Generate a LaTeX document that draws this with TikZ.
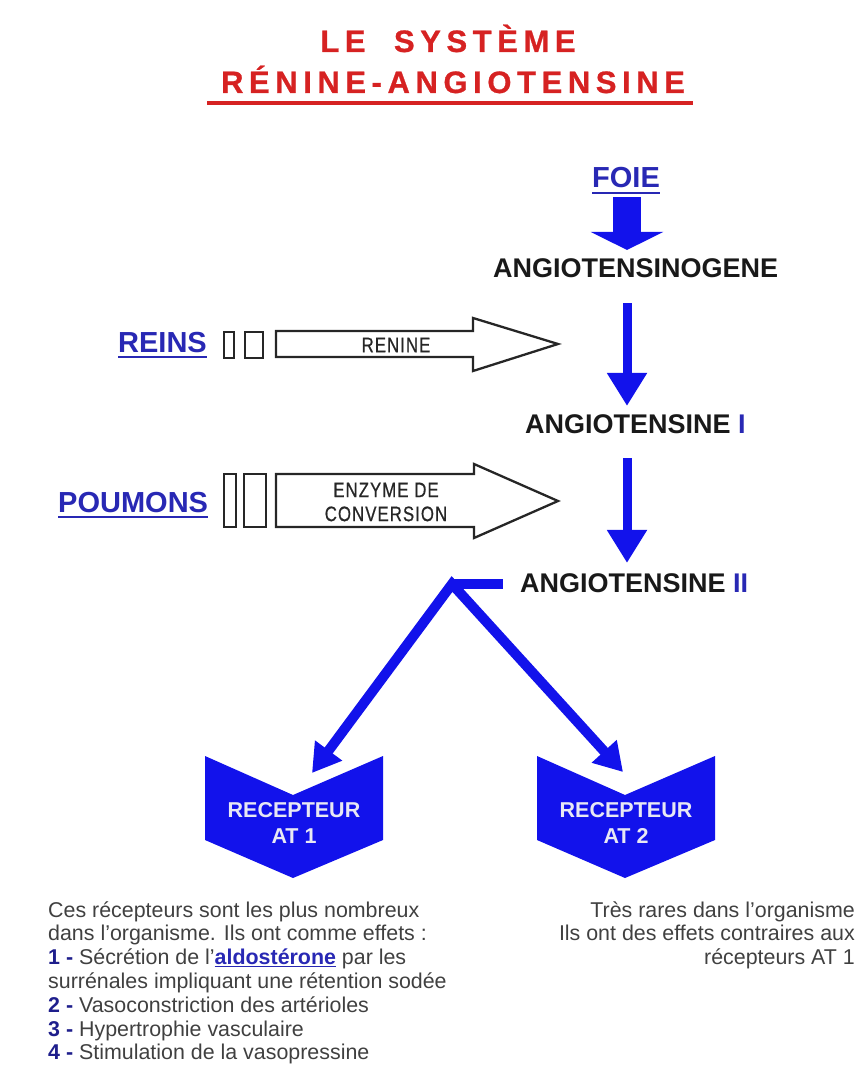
\documentclass[tikz,border=0pt]{standalone}
\usepackage{fontspec}
\usepackage{graphicx}
\setmainfont{Liberation Sans}
\newfontfamily\titlefont{Liberation Sans}[LetterSpace=18,FakeBold=0.8]
\newfontfamily\condfont{Liberation Sans}[FakeStretch=0.8,LetterSpace=5,FakeBold=0.6]
\usetikzlibrary{arrows.meta}
\definecolor{titlered}{RGB}{214,34,34}
\definecolor{myblue}{RGB}{18,18,235}
\definecolor{labelblue}{RGB}{40,40,180}
\definecolor{numblue}{RGB}{30,30,140}
\definecolor{txtgray}{RGB}{64,64,64}
\definecolor{recwhite}{RGB}{232,232,244}
\definecolor{darktxt}{RGB}{25,25,25}
\begin{document}
\begin{tikzpicture}[x=1pt,y=-1pt,
  titletxt/.style={font=\titlefont\bfseries\fontsize{31}{33}\selectfont, text=titlered, inner sep=0, anchor=base},
  organ/.style={font=\bfseries\fontsize{29}{31}\selectfont, text=labelblue, inner sep=0, anchor=base west},
  molecule/.style={font=\bfseries\fontsize{27}{29}\selectfont, text=darktxt, inner sep=0, anchor=base west},
  enz/.style={font=\condfont\fontsize{21}{24}\selectfont, text=black!85, inner sep=0, align=center},
  receptor/.style={fill=myblue, draw=none},
  rectext/.style={font=\bfseries\fontsize{21.5}{26}\selectfont, text=recwhite, align=center, inner sep=0},
  bodyl/.style={font=\fontsize{21.4}{24}\selectfont, text=txtgray, inner sep=0, anchor=base west},
  bodyr/.style={font=\fontsize{21.4}{24}\selectfont, text=txtgray, inner sep=0, anchor=base east},
  blockarrow/.style={draw=myblue, line width=28pt, -{Triangle[width=72pt,length=18pt]}},
  fatarrow/.style={draw=myblue, line width=9pt, -{Triangle[width=38pt,length=33pt]}},
  diagarrow/.style={draw=myblue, line width=10pt, line join=miter, {Triangle[width=32pt,length=28pt]}-{Triangle[width=32pt,length=28pt]}},
  outlinebox/.style={draw=black!85, line width=2.3pt, fill=white, line join=miter},
  uline/.style={draw=labelblue, line width=2.5pt}
]
\useasboundingbox (0,0) rectangle (863,1086);

% Title
\node[titletxt] (title1) at (448,52) {LE~~SYSTÈME};
\node[titletxt] (title2) at (453,93) {RÉNINE-ANGIOTENSINE};
\draw[titlered, line width=4pt] (207,103) -- (693,103);

% Organs
\node[organ] (foie) at (592,188) {FOIE};
\draw[uline] ([yshift=-5pt]foie.base west) -- ([yshift=-5pt]foie.base east);
\node[organ] (reins) at (118,352) {REINS};
\draw[uline] ([yshift=-5pt]reins.base west) -- ([yshift=-5pt]reins.base east);
\node[organ] (poumons) at (58,512) {POUMONS};
\draw[uline] ([yshift=-5pt]poumons.base west) -- ([yshift=-5pt]poumons.base east);

% Molecules
\node[molecule] (agn) at (493,277) {ANGIOTENSINOGENE};
\node[molecule] (a1) at (525,433) {ANGIOTENSINE \textcolor{labelblue}{I}};
\node[molecule] (a2) at (520,592) {ANGIOTENSINE \textcolor{labelblue}{II}};
\coordinate (ax) at (627,0);

% Vertical arrows
\draw[blockarrow, shorten <=9pt, shorten >=8pt] (foie.south -| ax) -- (agn.north -| ax);
\draw[fatarrow, shorten <=26pt, shorten >=8pt] (agn.south -| ax) -- (a1.north -| ax);
\draw[fatarrow, shorten <=25pt, shorten >=10pt] (a1.south -| ax) -- (a2.north -| ax);

% Enzyme arrows
\draw[outlinebox] (224,332) rectangle (234,358);
\draw[outlinebox] (245,332) rectangle (263,358);
\draw[outlinebox] (276,331) -- (473,331) -- (473,318) -- (558,344) -- (473,371) -- (473,357) -- (276,357) -- cycle;
\node[enz] (renine) at (396,345) {RENINE};

\draw[outlinebox] (224,474) rectangle (236,527);
\draw[outlinebox] (244,474) rectangle (266,527);
\draw[outlinebox] (276,474) -- (474,474) -- (474,464) -- (558,501) -- (474,538) -- (474,527) -- (276,527) -- cycle;
\node[enz] (eca) at (386,502) {ENZYME DE\\CONVERSION};

% Receptors
\fill[receptor] (205,756) -- (293,795) -- (383,756) -- (383,840) -- (293,878) -- (205,840) -- cycle;
\fill[receptor] (537,756) -- (625,795) -- (715,756) -- (715,840) -- (625,878) -- (537,840) -- cycle;
\node[rectext] (r1) at (294,823) {RECEPTEUR\\AT 1};
\node[rectext] (r2) at (626,823) {RECEPTEUR\\AT 2};

% Branching arrows
\coordinate (j) at (452,584);
\coordinate (t1) at (312,773);
\coordinate (t2) at (623,772);
\draw[diagarrow] (t1) -- (j) -- (t2);
\draw[draw=myblue, line width=10pt, shorten >=17pt] (j) -- (j -| a2.west);

% Body text left
\node[bodyl] (l1) at (48,917) {Ces récepteurs sont les plus nombreux};
\node[bodyl] (l2) at (48,940.8) {dans l'organisme. Ils ont comme effets :};
\node[bodyl] (l3) at (48,964.6) {\textcolor{numblue}{\bfseries 1 -} Sécrétion de l'\textcolor{labelblue}{\bfseries\underline{aldostérone}} par les};
\node[bodyl] (l4) at (48,988.4) {surrénales impliquant une rétention sodée};
\node[bodyl] (l5) at (48,1012.2) {\textcolor{numblue}{\bfseries 2 -} Vasoconstriction des artérioles};
\node[bodyl] (l6) at (48,1036) {\textcolor{numblue}{\bfseries 3 -} Hypertrophie vasculaire};
\node[bodyl] (l7) at (48,1059.8) {\textcolor{numblue}{\bfseries 4 -} Stimulation de la vasopressine};

% Body text right
\node[bodyr] (rt1) at (855,917) {Très rares dans l'organisme};
\node[bodyr] (rt2) at (855,940.5) {Ils ont des effets contraires aux};
\node[bodyr] (rt3) at (855,964) {récepteurs AT 1};
\end{tikzpicture}
\end{document}
